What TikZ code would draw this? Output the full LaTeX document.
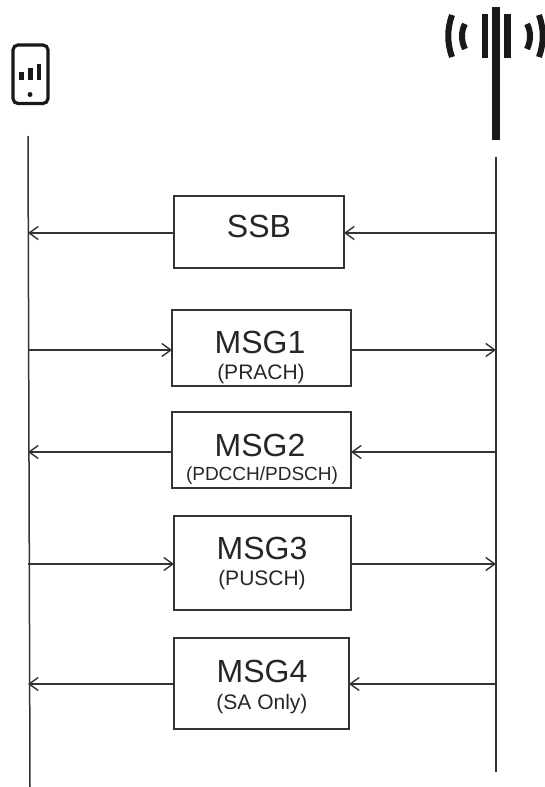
\documentclass[tikz,border=0pt]{standalone}
\usepackage{fontspec}
\setmainfont{Liberation Sans}
\usetikzlibrary{arrows.meta}

\begin{document}
\begin{tikzpicture}[
            x=1pt,
            y=-1pt,
            msgbox/.style={
                draw=black!80,
                line width=1.5pt
            },
            title/.style={
                font=\fontsize{32}{32}\selectfont,
                text=black!85,
                inner sep=0pt
            },
            subtitle/.style={
                text=black!85,
                inner sep=0pt
            },
            lifeline/.style={
                draw=black!80,
                line width=1.5pt
            },
            msgarrow/.style={
                draw=black!80,
                line width=1.4pt,
                -{Straight Barb[length=9pt,width=13pt]}
            },
            icon/.style={
                draw=black!90,
                line width=3.2pt
            },
            wave/.style={
                draw=black!90,
                line width=6pt
            }
        ]
            \useasboundingbox (0,0) rectangle (544,787);

            % lifelines
            \coordinate (ue-top) at (28,136);
            \coordinate (ue-bottom) at (30,787);
            \coordinate (gnb-top) at (496,157);
            \coordinate (gnb-bottom) at (496,772);
            \draw[lifeline] (ue-top) -- (ue-bottom);
            \draw[lifeline] (gnb-top) -- (gnb-bottom);

            % message boxes
            \foreach \n/\xa/\xb/\ya/\yb/\y in {
                ssb/174/344/196/268/233,
                msga/172/351/310/386/350,
                msgb/172/351/412/488/452,
                msgc/174/351/516/610/564,
                msgd/174/349/638/729/684
            } {
                \node[msgbox, inner sep=0pt, minimum width=\xb-\xa, minimum height=\yb-\ya] (\n) at ({(\xa+\xb)/2},{(\ya+\yb)/2}) {};
                \coordinate (\n-ue) at (28,\y);
                \coordinate (\n-gnb) at (496,\y);
                \coordinate (\n-west) at (\xa,\y);
                \coordinate (\n-east) at (\xb,\y);
            }

            % texts
            \node[title] (ssb-title) at (259,226) {SSB};
            \node[title] (msga-title) at (260,342) {MSG1};
            \node[subtitle, font=\fontsize{21}{21}\selectfont] (msga-sub) at (261,374) {(PRACH)};
            \node[title] (msgb-title) at (260,445) {MSG2};
            \node[subtitle, font=\fontsize{19}{19}\selectfont] (msgb-sub) at (262,476) {(PDCCH/PDSCH)};
            \node[title] (msgc-title) at (262,548) {MSG3};
            \node[subtitle, font=\fontsize{21}{21}\selectfont] (msgc-sub) at (262,580) {(PUSCH)};
            \node[title] (msgd-title) at (262,671) {MSG4};
            \node[subtitle, font=\fontsize{21}{21}\selectfont] (msgd-sub) at (262,704) {(SA Only)};

            % downlink
            \foreach \n in {ssb,msgb,msgd} {
                \draw[msgarrow] (\n-gnb) -- (\n-east);
                \draw[msgarrow] (\n-west) -- (\n-ue);
            }
            % uplink
            \foreach \n in {msga,msgc} {
                \draw[msgarrow] (\n-ue) -- (\n-west);
                \draw[msgarrow] (\n-east) -- (\n-gnb);
            }

            % phone
            \draw[icon, rounded corners=5pt] (13,45) rectangle (48,103.5);
            \foreach \x/\y in {21.5/72,30.5/68,39/64} {
                \draw[icon, line width=4.5pt] (\x,\y) -- (\x,80);
            }
            \fill[black!90] (30,94.5) circle (2.5pt);

            % tower
            \fill[black!90] (492,7) rectangle (500,140);
            \fill[black!90] (481.5,14) rectangle (488,58);
            \fill[black!90] (503.5,14) rectangle (510.5,58);
            \draw[wave] (452,15) .. controls (447,29) and (447,43) .. (452,57);
            \draw[wave] (465,24) .. controls (461,31) and (461,41) .. (465,49);
            \draw[wave] (527,24) .. controls (531,31) and (531,41) .. (527,49);
            \draw[wave] (539,15) .. controls (544,29) and (544,43) .. (539,57);
        \end{tikzpicture}
\end{document}
